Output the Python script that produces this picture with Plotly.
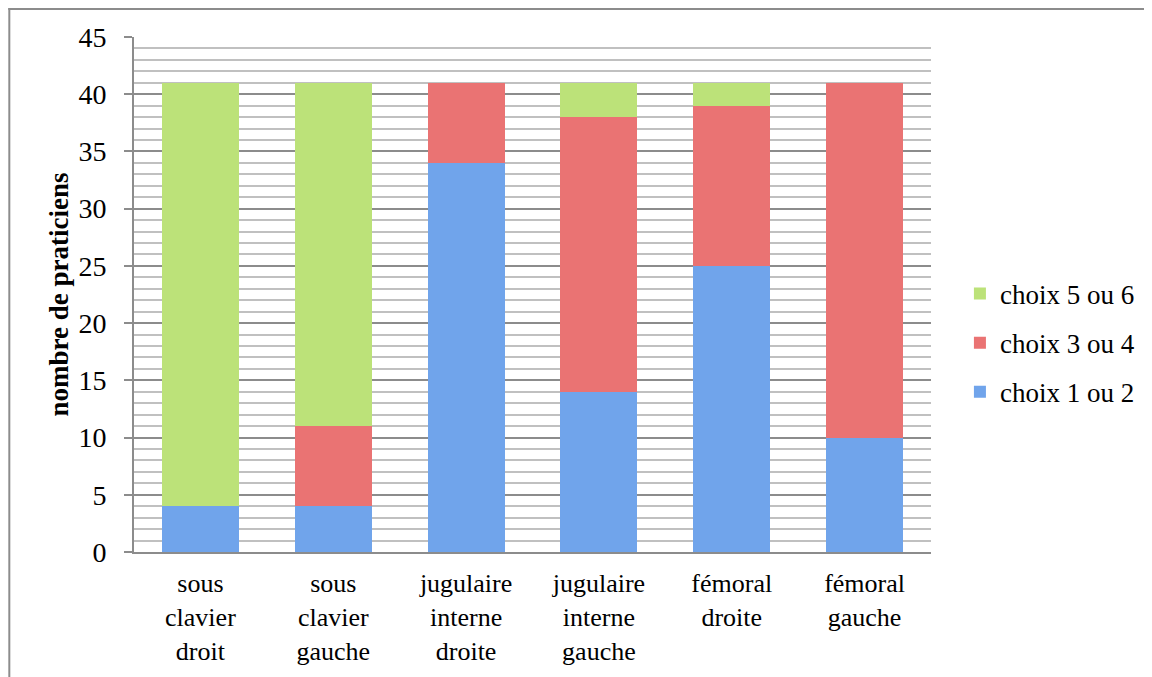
import plotly.graph_objects as go

categories = ["sous<br>clavier<br>droit", "sous<br>clavier<br>gauche", "jugulaire<br>interne<br>droite",
              "jugulaire<br>interne<br>gauche", "fémoral<br>droite", "fémoral<br>gauche"]
choix_1_2 = [4, 4, 34, 14, 25, 10]
choix_3_4 = [0, 7, 7, 24, 14, 31]
choix_5_6 = [37, 30, 0, 3, 2, 0]

# page body has an 8px margin, so work in page pixels minus 8
OFF = 8
W, H = 1152 - OFF, 677 - OFF
L, R, T, B = 134 - OFF, 933 - OFF, 37 - OFF, 552 - OFF

FONT = "Liberation Serif"

fig = go.Figure()
series = [
    ("choix 1 ou 2", choix_1_2, "#70A4EB", 3),
    ("choix 3 ou 4", choix_3_4, "#EA7373", 2),
    ("choix 5 ou 6", choix_5_6, "#BCE279", 1),
]
for i, (name, vals, col, rank) in enumerate(series):
    fig.add_trace(go.Bar(
        x=categories, y=vals, name=name, legendgroup=str(i), legendrank=rank,
        marker=dict(color=col, line=dict(width=0)),
    ))

def px_x(px):
    return (px - OFF - L) / (R - L)

def px_y(py):
    return (B - (py - OFF)) / (B - T)

fig.update_layout(
    width=W, height=H,
    margin=dict(l=L, r=W - R, t=T, b=H - B),
    barmode="stack", bargap=0.42,
    plot_bgcolor="white", paper_bgcolor="white",
    font=dict(family=FONT, size=27, color="#000000"),
    showlegend=True,
    legend=dict(
        x=px_x(962), y=px_y(343), xanchor="left", yanchor="middle",
        traceorder="grouped", tracegroupgap=11,
        font=dict(family=FONT, size=27),
        bgcolor="rgba(0,0,0,0)",
    ),
    xaxis=dict(
        showgrid=False, ticks="", showline=True, linecolor="#8C8C8C", linewidth=2,
        tickfont=dict(family=FONT, size=26), ticklabelstandoff=7,
    ),
    yaxis=dict(
        range=[0, 45], dtick=5, tick0=0,
        showgrid=True, gridcolor="#8C8C8C", gridwidth=1.5,
        minor=dict(dtick=1, showgrid=True, gridcolor="#C0C0C0", gridwidth=1.5),
        ticks="outside", ticklen=8, tickcolor="#8C8C8C", tickwidth=1.5,
        showline=True, linecolor="#8C8C8C", linewidth=2,
        tickfont=dict(family=FONT, size=28), ticklabelstandoff=12,
        zeroline=False,
        title=dict(text="<b>nombre de praticiens</b>", font=dict(family=FONT, size=27), standoff=2),
    ),
    shapes=[
        dict(type="line", xref="paper", yref="paper", x0=px_x(8), x1=px_x(1152), y0=px_y(9), y1=px_y(9),
             line=dict(color="#8C8C8C", width=2)),
        dict(type="line", xref="paper", yref="paper", x0=px_x(9), x1=px_x(9), y0=px_y(8), y1=px_y(677),
             line=dict(color="#8C8C8C", width=2)),
    ],
)
fig.write_html("out.html")
